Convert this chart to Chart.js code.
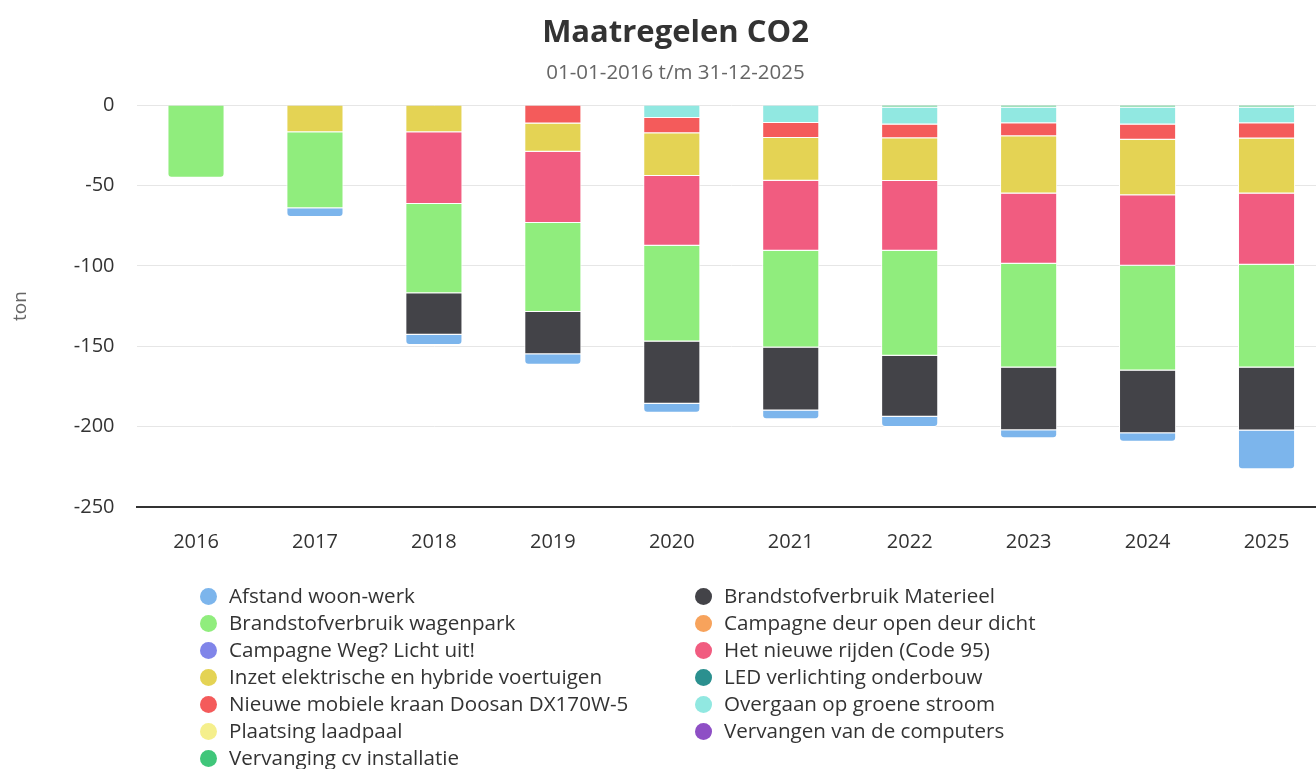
<!DOCTYPE html>
<html>
<head>
<meta charset="utf-8">
<script src="https://cdn.jsdelivr.net/npm/chart.js@4"></script>
<style>
  html, body { margin: 0; padding: 0; overflow: hidden; background: #fff; }
  #wrap { position: relative; width: 1351px; height: 769px; }
  #legend {
    position: absolute; left: 200px; top: 582px;
    display: grid; grid-template-columns: 495px 495px;
    font: 20.6px "Open Sans", sans-serif; color: #333;
  }
  #legend .item { height: 27px; line-height: 27px; white-space: nowrap; }
  #legend .dot {
    display: inline-block; width: 17px; height: 17px; border-radius: 50%;
    vertical-align: -2px; margin-right: 12px;
  }
</style>
</head>
<body>
<div id="wrap">
  <canvas id="chart-co2" width="1351" height="769"></canvas>
  <div id="legend"></div>
</div>
<script>
  "use strict";
  const titleText = "Maatregelen CO2";
  const subtitleText = "01-01-2016 t/m 31-12-2025";
  const years = ["2016", "2017", "2018", "2019", "2020", "2021", "2022", "2023", "2024", "2025"];
  const yTicks = [0, -50, -100, -150, -200, -250];

  // ton CO2 per maatregel, per jaar (negatief = besparing)
  const afstandWoonWerk = [null, -5.4, -6.3, -6.5, -5.6, -5.4, -6.4, -5.0, -5.3, -24.2];
  const brandstofMaterieel = [null, null, -25.8, -26.2, -38.8, -39.2, -37.9, -39.1, -39.0, -39.1];
  const brandstofWagenpark = [-45.3, -47.2, -55.5, -55.4, -59.5, -60.2, -65.3, -64.4, -65.1, -63.9];
  const campagneDeur = [null, null, null, null, null, null, null, null, null, null];
  const campagneLicht = [null, null, null, null, null, null, null, null, null, null];
  const hetNieuweRijden = [null, null, -44.6, -44.3, -43.3, -43.5, -43.5, -43.8, -43.8, -44.3];
  const inzetElektrisch = [null, -17.0, -17.0, -17.6, -26.7, -26.5, -26.5, -35.5, -34.6, -34.3];
  const ledVerlichting = [null, null, null, null, null, null, null, null, null, null];
  const nieuweKraan = [null, null, null, -11.5, -9.4, -9.4, -8.6, -8.2, -9.5, -9.5];
  const groeneStroom = [null, null, null, null, -8.1, -11.2, -10.5, -9.7, -10.5, -9.7];
  const laadpaal = [null, null, null, null, null, null, null, null, null, null];
  const computers = [null, null, null, null, null, null, null, null, null, null];
  const vervangingCv = [null, null, null, null, null, null, -1.6, -1.6, -1.6, -1.6];

  const seriesNames = [
    "Afstand woon-werk",
    "Brandstofverbruik Materieel",
    "Brandstofverbruik wagenpark",
    "Campagne deur open deur dicht",
    "Campagne Weg? Licht uit!",
    "Het nieuwe rijden (Code 95)",
    "Inzet elektrische en hybride voertuigen",
    "LED verlichting onderbouw",
    "Nieuwe mobiele kraan Doosan DX170W-5",
    "Overgaan op groene stroom",
    "Plaatsing laadpaal",
    "Vervangen van de computers",
    "Vervanging cv installatie",
  ];
  const seriesValues = [
    afstandWoonWerk, brandstofMaterieel, brandstofWagenpark, campagneDeur, campagneLicht,
    hetNieuweRijden, inzetElektrisch, ledVerlichting, nieuweKraan, groeneStroom,
    laadpaal, computers, vervangingCv,
  ];
  const COLORS = [
    "#7cb5ec", "#434348", "#90ed7d", "#f7a35c", "#8085e9", "#f15c80", "#e4d354",
    "#2b908f", "#f45b5b", "#91e8e1", "#f5ef8c", "#8e4fc5", "#40c67a",
  ];

  const font = "'Open Sans', sans-serif";

  // title + subtitle centred on the whole canvas (not on the padded area)
  const headerPlugin = {
    id: "header",
    afterDraw: function (chart) {
      const ctx = chart.ctx;
      ctx.save();
      ctx.textAlign = "center";
      ctx.textBaseline = "alphabetic";
      ctx.fillStyle = "#333";
      ctx.font = "bold 31px " + font;
      ctx.fillText(titleText, chart.width / 2, 42);
      ctx.fillStyle = "#666";
      ctx.font = "20.5px " + font;
      ctx.fillText(subtitleText, chart.width / 2, 79);
      ctx.restore();
    },
  };

  // last series sits closest to zero, so build the stack in reverse
  const datasets = seriesNames.map((name, i) => ({
    label: name,
    data: seriesValues[i],
    backgroundColor: COLORS[i],
    borderColor: "#fff",
    borderWidth: 1,
    borderRadius: 4,
    barPercentage: 0.48,
    categoryPercentage: 1,
  })).reverse();

  const chart = new Chart(document.getElementById("chart-co2"), {
    type: "bar",
    data: { labels: years, datasets },
    plugins: [headerPlugin],
    options: {
      responsive: false,
      animation: false,
      layout: { padding: { left: 0, right: 25, top: 105, bottom: 192 } },
      plugins: {
        legend: { display: false },
        tooltip: { enabled: false },
      },
      scales: {
        x: {
          stacked: true,
          grid: { display: false, drawTicks: false },
          border: { display: true, color: "#333", width: 2 },
          ticks: { color: "#333", padding: 23, font: { family: font, size: 20 } },
        },
        y: {
          stacked: true,
          min: -250,
          max: 0,
          afterBuildTicks: (axis) => {
            axis.ticks = yTicks.map((v) => ({ value: v }));
          },
          grid: { color: "#e6e6e6", lineWidth: 1, drawTicks: false },
          border: { display: false },
          ticks: { color: "#333", padding: 22, font: { family: font, size: 20 } },
          title: {
            display: true,
            text: "ton",
            color: "#666",
            font: { family: font, size: 19 },
            padding: { top: 9, bottom: 20 },
          },
        },
      },
    },
  });

  // legend in two columns, alphabetical like the original
  const legendEl = document.getElementById("legend");
  seriesNames.forEach((name, i) => {
    const item = document.createElement("div");
    item.className = "item";
    const dot = document.createElement("span");
    dot.className = "dot";
    dot.style.background = COLORS[i];
    item.appendChild(dot);
    item.appendChild(document.createTextNode(name));
    legendEl.appendChild(item);
  });
</script>
</body>
</html>
